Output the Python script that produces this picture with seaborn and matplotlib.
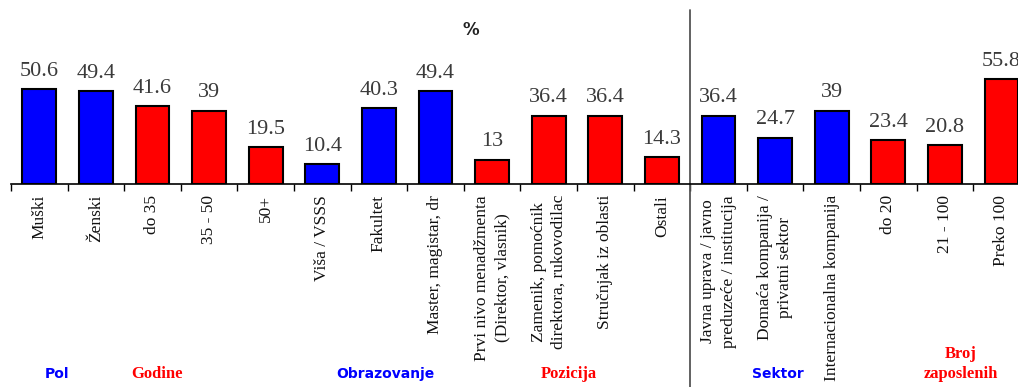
import matplotlib
matplotlib.use("Agg")
import matplotlib.pyplot as plt
import matplotlib.transforms as mtransforms
import seaborn as sns

categories = [
    "Muški", "Ženski", "do 35", "35 - 50", "50+", "Viša / VSSS", "Fakultet",
    "Master, magistar, dr", "Prvi nivo menadžmenta\n(Direktor, vlasnik)",
    "Zamenik, pomoćnik\ndirektora, rukovodilac", "Stručnjak iz oblasti", "Ostali",
    "Javna uprava / javno\npreduzeće / institucija", "Domaća kompanija /\nprivatni sektor",
    "Internacionalna kompanija", "do 20", "21 - 100", "Preko 100",
]
values = [50.6, 49.4, 41.6, 39, 19.5, 10.4, 40.3, 49.4, 13, 36.4, 36.4, 14.3,
          36.4, 24.7, 39, 23.4, 20.8, 55.8]
value_labels = ["50.6", "49.4", "41.6", "39", "19.5", "10.4", "40.3", "49.4", "13",
                "36.4", "36.4", "14.3", "36.4", "24.7", "39", "23.4", "20.8", "55.8"]
bar_colors = ["#0000FF", "#0000FF", "#FF0000", "#FF0000", "#FF0000", "#0000FF",
              "#0000FF", "#0000FF", "#FF0000", "#FF0000", "#FF0000", "#FF0000",
              "#0000FF", "#0000FF", "#0000FF", "#FF0000", "#FF0000", "#FF0000"]
group_names = ["Pol", "Godine", "Obrazovanje", "Pozicija", "Sektor", "Broj\nzaposlenih"]
group_colors = ["#0000FF", "#FF0000", "#0000FF", "#FF0000", "#0000FF", "#FF0000"]
group_sans = [True, False, True, False, True, False]
group_xpos = [0.31, 2.08, 6.11, 9.36, 13.05, 16.28]
separator_after = 11  # index of last category before the vertical divider

sns.set_theme(style="white")
plt.rcParams["font.family"] = ["Liberation Serif", "DejaVu Serif"]

W, H = 1018, 387
fig = plt.figure(figsize=(W / 100, H / 100), dpi=100)
ax_left, ax_base, ax_top = 11, 184, 10
slot = 56.6
ax = fig.add_axes([ax_left / W, (H - ax_base) / H, len(categories) * slot / W,
                   (ax_base - ax_top) / H])

sns.barplot(x=categories, y=values, hue=categories, palette=bar_colors, legend=False,
            width=0.6, edgecolor="black", linewidth=1.5, saturation=1, ax=ax)

ax.set_xlim(-0.5, len(categories) - 0.5)
ax.set_ylim(0, (ax_base - ax_top) / 1.88)
ax.set_xlabel("")
ax.set_ylabel("")
ax.set_yticks([])
for s in ["left", "top", "right"]:
    ax.spines[s].set_visible(False)
ax.spines["bottom"].set_color("black")
ax.spines["bottom"].set_linewidth(1.2)

ax.set_xticks(range(len(categories)))
ax.set_xticklabels(categories, rotation=90, fontsize=12.5, color="#111111",
                   linespacing=1.35, va="top", ha="center")
ax.tick_params(axis="x", which="major", length=0, pad=8)
ax.set_xticks([i - 0.5 for i in range(len(categories) + 1)], minor=True)
ax.tick_params(axis="x", which="minor", length=5, width=1.0, color="black",
               direction="out", bottom=True)

for i, (v, lab) in enumerate(zip(values, value_labels)):
    ax.annotate(lab, (i, v), xytext=(0, 9.5), textcoords="offset points",
                ha="center", va="baseline", fontsize=16, color="#3a3a3a")

# vertical divider between Pozicija and Sektor, down to the figure bottom
ymin_axes = -(H - ax_base) / (ax_base - ax_top)
ax.axvline(separator_after + 0.5, ymin=ymin_axes, ymax=1, clip_on=False,
           color="#555555", lw=1.3)

fig.text(0.4625, (H - 30) / H, "%", ha="center", va="center",
         fontsize=12, fontweight="bold", family="DejaVu Sans", color="#222222")

blend = mtransforms.blended_transform_factory(ax.transData, fig.transFigure)
for name, col, sans, gx in zip(group_names, group_colors, group_sans, group_xpos):
    two = "\n" in name
    y_fig = (H - (364 if two else 374)) / H
    ax.text(gx, y_fig, name, transform=blend,
            ha="center", va="center", color=col, fontweight="bold",
            fontsize=10 if sans else 12, linespacing=1.3,
            family="DejaVu Sans" if sans else "Liberation Serif")

fig.savefig("out.png", dpi=100)
